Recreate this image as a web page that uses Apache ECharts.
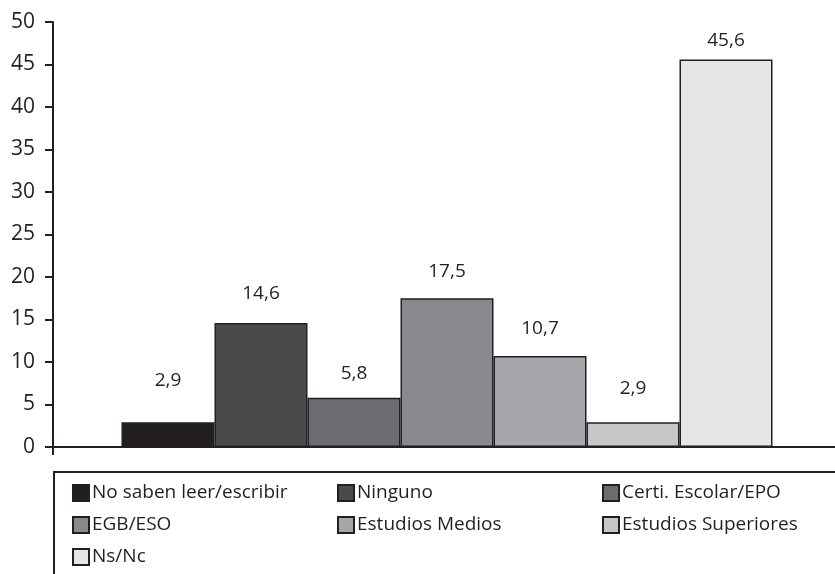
<!DOCTYPE html>
<html>
<head>
<meta charset="utf-8">
<script src="https://cdn.jsdelivr.net/npm/echarts@6/dist/echarts.min.js"></script>
<style>
html,body{margin:0;padding:0;background:#fff;overflow:hidden;width:835px;height:574px;}
#chart{width:841px;height:574px;}
</style>
</head>
<body>
<div id="chart"></div>
<script>
const categories = [''];
const seriesNames = ['No saben leer/escribir', 'Ninguno', 'Certi. Escolar/EPO', 'EGB/ESO', 'Estudios Medios', 'Estudios Superiores', 'Ns/Nc'];
const seriesValues = [2.9, 14.6, 5.8, 17.5, 10.7, 2.9, 45.6];
const seriesColors = ['#231f20', '#4a4a4c', '#6b6c6f', '#88898c', '#a6a7aa', '#c6c7c9', '#e4e5e6'];
const labelGaps = [32, 20, 15, 17, 18, 24, 9];
const yTicks = { min: 0, max: 50, interval: 5 };

const FONT = 'Open Sans';
const INK = '#231f20';

const chart = echarts.init(document.getElementById('chart'), null, { renderer: 'canvas' });

const series = seriesNames.map((name, i) => ({
  name: name,
  type: 'bar',
  barWidth: 93,
  barGap: '0%',
  data: [seriesValues[i]],
  itemStyle: { color: seriesColors[i], borderColor: INK, borderWidth: 1.5 },
  label: {
    show: true,
    position: 'top',
    distance: labelGaps[i],
    color: INK,
    fontFamily: FONT,
    fontSize: 19,
    formatter: p => String(p.value).replace('.', ',')
  },
  emphasis: { disabled: true },
  animation: false
}));

chart.setOption({
  backgroundColor: '#ffffff',
  animation: false,
  grid: { left: 53, right: 0, top: 22, bottom: 127, containLabel: false },
  xAxis: {
    type: 'category',
    data: categories,
    axisLine: { show: true, lineStyle: { color: INK, width: 2 } },
    axisTick: { show: true, length: 8, lineStyle: { color: INK, width: 2 } },
    axisLabel: { show: false },
    splitLine: { show: false }
  },
  yAxis: {
    type: 'value',
    min: yTicks.min,
    max: yTicks.max,
    interval: yTicks.interval,
    axisLine: { show: true, lineStyle: { color: INK, width: 2 } },
    axisTick: { show: true, length: 8, lineStyle: { color: INK, width: 2 } },
    axisLabel: { color: INK, fontFamily: FONT, fontSize: 21, margin: 18 },
    splitLine: { show: false }
  },
  legend: {
    left: 54,
    top: 472,
    orient: 'horizontal',
    width: 810,
    itemWidth: 16,
    itemHeight: 16,
    itemGap: 0,
    icon: 'rect',
    padding: [5, 30, 12, 18],
    borderColor: INK,
    borderWidth: 2,
    selectedMode: false,
    textStyle: {
      color: INK,
      fontFamily: FONT,
      fontSize: 19,
      width: 245,
      lineHeight: 32,
      padding: [0, 0, 0, -2]
    },
    data: seriesNames
  },
  series: series
});
</script>
</body>
</html>
